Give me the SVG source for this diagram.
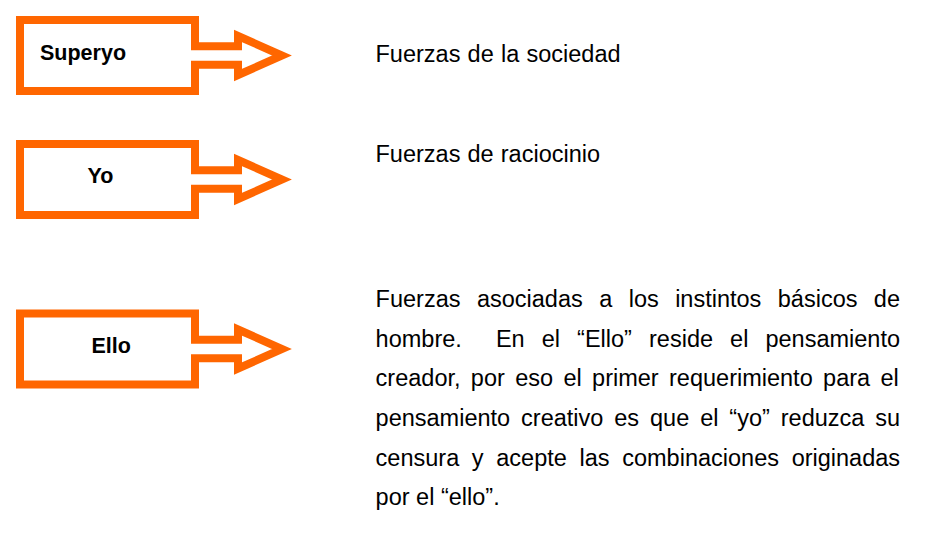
<svg xmlns="http://www.w3.org/2000/svg" width="937" height="534" viewBox="0 0 937 534">
  <style>
    .shape { fill: #FFFFFF; stroke: #FF6600; stroke-width: 8; stroke-linejoin: miter; stroke-miterlimit: 6; }
    .lbl { font-family: "Liberation Sans", Arial, sans-serif; font-weight: bold; font-size: 21.5px; fill: #000000; }
    .txt { font-family: "Liberation Sans", Arial, sans-serif; font-size: 23.5px; fill: #000000; }
  </style>
  <defs>
    <path id="arrowBox" d="M20,-35.5 H195 V-9.2 H238 V-19.5 L282,0 L238,19.5 V9.2 H195 V35.5 H20 Z"/>
  </defs>
  <rect width="937" height="534" fill="#FFFFFF"/>
  <g id="node-superyo">
    <use href="#arrowBox" class="shape" transform="translate(0,55.5)"/>
    <text class="lbl" x="40" y="60">Superyo</text>
  </g>
  <g id="node-yo">
    <use href="#arrowBox" class="shape" transform="translate(0,179.5)"/>
    <text class="lbl" x="87.5" y="183">Yo</text>
  </g>
  <g id="node-ello">
    <use href="#arrowBox" class="shape" transform="translate(0,349)"/>
    <text class="lbl" x="91.5" y="353">Ello</text>
  </g>
  <g id="desc-superyo">
    <text class="txt" x="375.5" y="62" word-spacing="0.7">Fuerzas de la sociedad</text>
  </g>
  <g id="desc-yo">
    <text class="txt" x="375.5" y="162" word-spacing="0.6">Fuerzas de raciocinio</text>
  </g>
  <g id="desc-ello">
    <text class="txt" x="375.6" y="307" word-spacing="9.9">Fuerzas asociadas a los instintos básicos de</text>
    <text class="txt" x="375.6" y="347" word-spacing="10.54" xml:space="preserve" style="white-space:pre">hombre.  En el “Ello” reside el pensamiento</text>
    <text class="txt" x="375.6" y="386" word-spacing="3.83">creador, por eso el primer requerimiento para el</text>
    <text class="txt" x="375.6" y="426" word-spacing="4.39">pensamiento creativo es que el “yo” reduzca su</text>
    <text class="txt" x="375.6" y="466" word-spacing="6.14">censura y acepte las combinaciones originadas</text>
    <text class="txt" x="375.6" y="505">por el “ello”.</text>
  </g>
</svg>
